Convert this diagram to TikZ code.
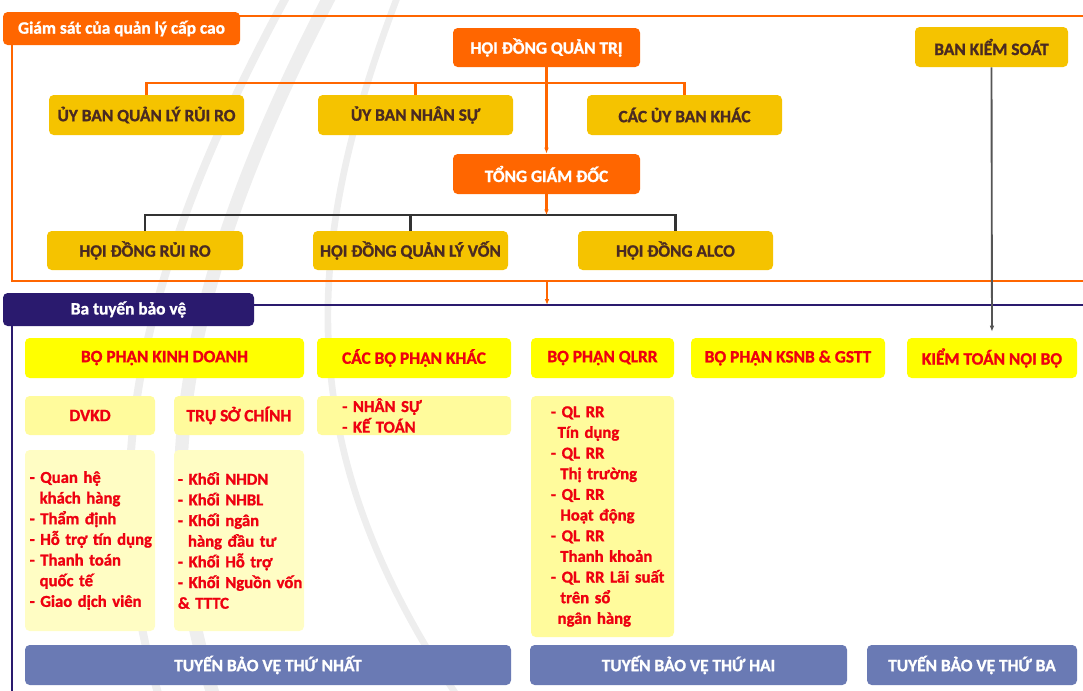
\documentclass[tikz,border=0pt]{standalone}
\usepackage{fontspec}
\setmainfont{Carlito}[BoldFeatures={FakeBold=1.2}]
\usetikzlibrary{arrows.meta}
\definecolor{org}{HTML}{FF6600}
\definecolor{gold}{HTML}{F5C300}
\definecolor{brn}{HTML}{4A2A22}
\definecolor{ylw}{HTML}{FFFF00}
\definecolor{rd}{HTML}{EE0010}
\definecolor{lya}{HTML}{FFFB9C}
\definecolor{lyb}{HTML}{FFFDC4}
\definecolor{navy}{HTML}{2A1A6E}
\definecolor{blu}{HTML}{6A7AB4}
\definecolor{arcg}{HTML}{EEEEEE}
\definecolor{kgray}{HTML}{555555}
\def\PX{0.75pt}
\newcommand\boxat[7]{\node[#2, minimum width={(#5-#3)*\PX}, minimum height={(#6-#4)*\PX}] (#1) at ({(#3+#5)/2},{(#4+#6)/2}) {#7};}
\newcommand\ind[1]{\hspace*{#1}}
\tikzset{
  base/.style={rounded corners=3.5pt, inner sep=0pt, align=center},
  obox/.style={base, fill=org, text=white, font=\bfseries\fontsize{13}{15}\selectfont},
  gbox/.style={base, fill=gold, text=brn, font=\bfseries\fontsize{13}{15}\selectfont},
  ybox/.style={base, fill=ylw, text=rd, font=\bfseries\fontsize{13}{15}\selectfont},
  lbox/.style={base, fill=lya, text=rd, font=\bfseries\fontsize{13}{15}\selectfont},
  listbox/.style={base, align=left, text=rd, font=\bfseries\fontsize{12.5}{15.5}\selectfont},
  nbox/.style={base, fill=navy, text=white, font=\bfseries\fontsize{13}{15}\selectfont},
  bbox/.style={base, fill=blu, text=white, font=\bfseries\fontsize{13}{15}\selectfont},
  oline/.style={draw=org, line width=1.6pt},
  kline/.style={draw=black!80, line width=1.6pt},
  nline/.style={draw=navy, line width=1.6pt},
  tip/.style={-{Latex[length=4.5pt,width=3.5pt]}},
  arcline/.style={draw=arcg, line cap=round},
}
\begin{document}
\begin{tikzpicture}[x=0.75pt,y=-0.75pt]
\useasboundingbox (0,0) rectangle (1083,690);
\clip (0,0) rectangle (1083,690);
% decorative arcs
\draw[arcline, line width=10pt] (333,-10) .. controls (170,300) and (150,500) .. (215,700);
\draw[arcline, line width=6pt] (290,-10) .. controls (120,300) and (100,500) .. (160,700);
\draw[arcline, line width=5pt] (400,-10) .. controls (300,250) and (290,450) .. (460,700);
% frames
\draw[oline] (12,16) rectangle (1095,281);
\draw[nline] (1095,305) -| (12,700);
% top section boxes
\boxat{gs}{obox}{3}{12}{240}{45}{Giám sát của quản lý cấp cao}
\boxat{hdqt}{obox}{453}{28}{640}{67}{HỘI ĐỒNG QUẢN TRỊ}
\boxat{ub1}{gbox}{49}{95}{244}{135}{ỦY BAN QUẢN LÝ RỦI RO}
\boxat{ub2}{gbox}{318}{95}{513}{135}{ỦY BAN NHÂN SỰ}
\boxat{ub3}{gbox}{587}{95}{782}{135}{CÁC ỦY BAN KHÁC}
\boxat{bks}{gbox}{915}{27}{1068}{67}{BAN KIỂM SOÁT}
\boxat{tgd}{obox}{453}{154}{640}{194}{TỔNG GIÁM ĐỐC}
\boxat{hd1}{gbox}{47}{231}{243}{270}{HỘI ĐỒNG RỦI RO}
\boxat{hd2}{gbox}{313}{231}{508}{270}{HỘI ĐỒNG QUẢN LÝ VỐN}
\boxat{hd3}{gbox}{578}{231}{773}{270}{HỘI ĐỒNG ALCO}
\coordinate (fb) at (547,281);
\coordinate (nl) at (547,305);
% connectors top
\draw[oline] (ub1.north) -- ++(0,-12) -| (ub3.north);
\draw[oline] (ub2.north) -- ++(0,-12);
\draw[oline, tip] (hdqt.south) -- (tgd.north);
\draw[kline] (hd1.north) -- ++(0,-16) -| (hd3.north);
\draw[kline] (hd2.north) -- ++(0,-16);
\draw[oline, tip] (tgd.south) -- ++(0,21);
\draw[oline, tip] (fb) -- (nl);
% bottom section
\boxat{btbv}{nbox}{3}{293}{254}{326}{Ba tuyến bảo vệ}
\boxat{y1}{ybox}{25}{338}{304}{378}{BỘ PHẬN KINH DOANH}
\boxat{y2}{ybox}{317}{338}{511}{378}{CÁC BỘ PHẬN KHÁC}
\boxat{y3}{ybox}{531}{338}{674}{378}{BỘ PHẬN QLRR}
\boxat{y4}{ybox}{691}{338}{885}{378}{BỘ PHẬN KSNB \& GSTT}
\boxat{y5}{ybox}{907}{338}{1077}{378}{KIỂM TOÁN NỘI BỘ}
\draw[draw=kgray, line width=1.4pt, tip, shorten >=4.5pt] (bks.south) -- (y5.north);
\boxat{dvkd}{lbox}{25}{396}{155}{435}{DVKD}
\boxat{tsc}{lbox}{174}{396}{304}{435}{TRỤ SỞ CHÍNH}
\boxat{khac}{listbox, fill=lya, text width={194*\PX}}{317}{396}{511}{435}{\ind{19pt}- NHÂN SỰ\\\ind{19pt}- KẾ TOÁN}
\boxat{qlrr}{listbox, fill=lya, text width={143*\PX}}{531}{396}{674}{637}{\ind{15pt}- QL RR\\\ind{20pt}Tín dụng\\\ind{15pt}- QL RR\\\ind{22pt}Thị trường\\\ind{15pt}- QL RR\\\ind{22pt}Hoạt động\\\ind{15pt}- QL RR\\\ind{22pt}Thanh khoản\\\ind{15pt}- QL RR Lãi suất\\\ind{22pt}trên sổ\\\ind{20pt}ngân hàng}
\boxat{dvkdl}{listbox, fill=lyb, text width={130*\PX}}{25}{450}{155}{631}{\ind{3.5pt}- Quan hệ\\\ind{11pt}khách hàng\\\ind{3.5pt}- Thẩm định\\\ind{3.5pt}- Hỗ trợ tín dụng\\\ind{3.5pt}- Thanh toán\\\ind{11pt}quốc tế\\\ind{3.5pt}- Giao dịch viên}
\boxat{tscl}{listbox, fill=lyb, text width={130*\PX}}{174}{450}{304}{631}{\ind{3pt}- Khối NHDN\\\ind{3pt}- Khối NHBL\\\ind{3pt}- Khối ngân\\\ind{10.5pt}hàng đầu tư\\\ind{3pt}- Khối Hỗ trợ\\\ind{3pt}- Khối Nguồn vốn\\\ind{3pt}\& TTTC}
\boxat{t1}{bbox}{25}{645}{511}{685}{TUYẾN BẢO VỆ THỨ NHẤT}
\boxat{t2}{bbox}{530}{645}{847}{685}{TUYẾN BẢO VỆ THỨ HAI}
\boxat{t3}{bbox}{867}{645}{1077}{685}{TUYẾN BẢO VỆ THỨ BA}
\end{tikzpicture}
\end{document}
